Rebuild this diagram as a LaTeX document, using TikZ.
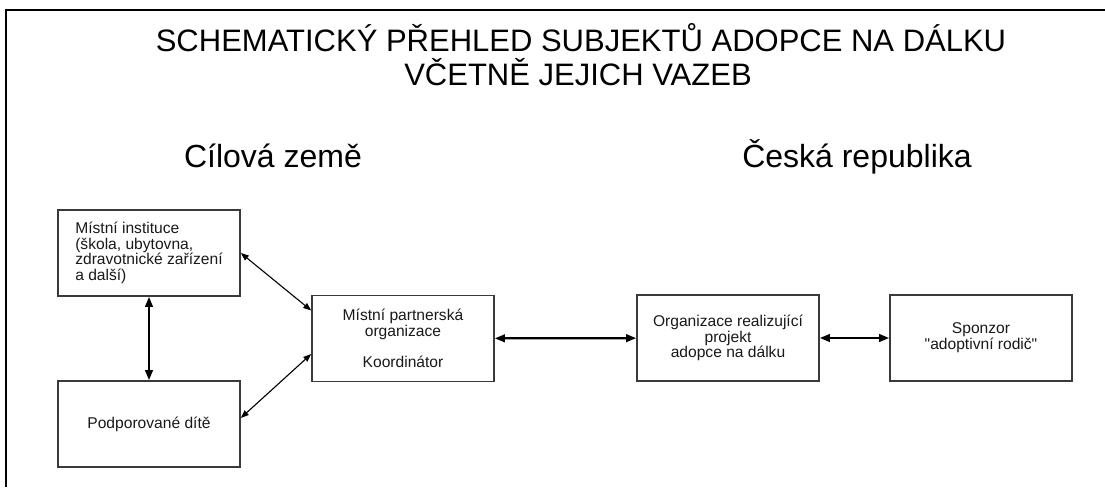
\documentclass[tikz,border=0pt]{standalone}
\usepackage{fontspec}
\setmainfont{Liberation Sans}
\usetikzlibrary{arrows.meta}
\definecolor{boxgray}{HTML}{3A3A3A}
\tikzset{
  subjekt/.style={draw=boxgray, line width=1.6pt, minimum width=182pt, minimum height=86pt,
    inner sep=0pt, align=center, font=\fontsize{15.6}{15.7}\selectfont, text=black!90},
  vazba/.style={line width=1.1pt, {Triangle[length=8pt,width=6pt]}-{Triangle[length=8pt,width=6pt]}},
  silna/.style={line width=2.2pt, {Triangle[length=10pt,width=7.5pt]}-{Triangle[length=10pt,width=7.5pt]}}
}
\begin{document}
\begin{tikzpicture}[x=1pt,y=-1pt]
  \useasboundingbox (0,0) rectangle (1105,487);
  \draw[line width=2pt] (1105,10) -| (6,487);

  \node[anchor=base, font=\fontsize{31}{33}\selectfont] (nadpis) at (581,52)
    {SCHEMATICKÝ PŘEHLED SUBJEKTŮ ADOPCE NA DÁLKU};
  \node[anchor=base, font=\fontsize{31}{33}\selectfont] (nadpis2) at (578,85)
    {VČETNĚ JEJICH VAZEB};
  \node[anchor=base, font=\fontsize{32}{34}\selectfont] (cil) at (273,167) {Cílová země};
  \node[anchor=base, font=\fontsize{32}{34}\selectfont] (cr) at (857,167) {Česká republika};

  \node[subjekt, align=left] (instituce) at (149,253)
    {Místní instituce\\(škola, ubytovna,\\zdravotnické zařízení\\a další)};
  \node[subjekt] (dite) at (149,424) {Podporované dítě};
  \node[subjekt] (partner) at (403,338.5)
    {Místní partnerská\\organizace\\[15.7pt]Koordinátor};
  \node[subjekt] (realizator) at (728,338) {Organizace realizující\\projekt\\adopce na dálku};
  \node[subjekt] (sponzor) at (981,338) {Sponzor\\\textquotedbl adoptivní rodič\textquotedbl};

  \draw[silna] (instituce) -- (dite);
  \draw[vazba] (instituce.east) -- ([yshift=28pt]partner.west);
  \draw[vazba] ([yshift=6pt]dite.east) -- ([yshift=-15.5pt]partner.west);
  \draw[silna] (partner) -- (realizator);
  \draw[silna] (realizator) -- (sponzor);
\end{tikzpicture}
\end{document}
